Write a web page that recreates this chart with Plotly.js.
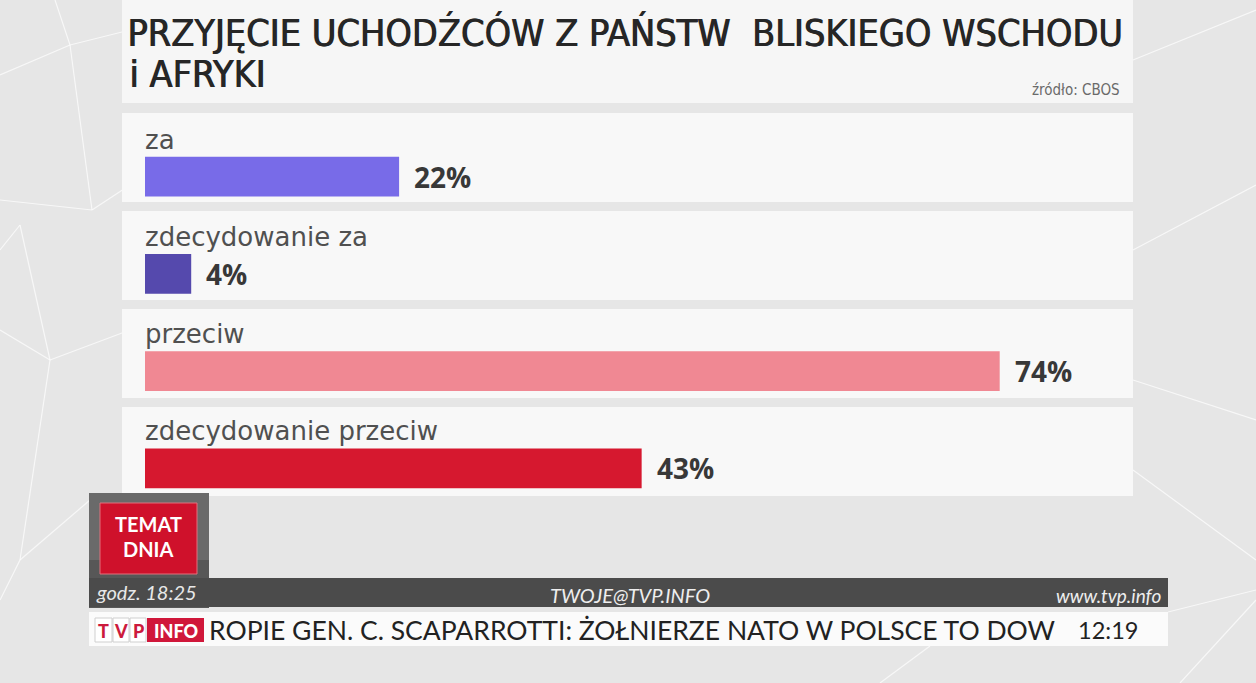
<!DOCTYPE html>
<html>
<head>
<meta charset="utf-8">
<script src="https://cdn.plot.ly/plotly-3.0.1.min.js"></script>
<style>
html,body{margin:0;padding:0;background:#e6e6e6;}
#chart{width:1256px;height:683px;}
</style>
</head>
<body>
<div id="chart"></div>
<script>
// ---- data ----
const categories = ['za', 'zdecydowanie za', 'przeciw', 'zdecydowanie przeciw'];
const values = [22, 4, 74, 43];
const barColors = ['#786be8', '#5549ad', '#f08893', '#d6182f'];
const titleLine1 = 'PRZYJĘCIE UCHODŹCÓW Z PAŃSTW\u00a0\u00a0BLISKIEGO WSCHODU';
const titleLine2 = 'i AFRYKI';
const sourceText = 'źródło: CBOS';
const tickerText = 'ROPIE GEN. C. SCAPARROTTI: ŻOŁNIERZE NATO W POLSCE TO DOW';

// ---- layout geometry (pixels) ----
const W = 1256, H = 683;
const mL = 145, mR = 123, mT = 128, mB = 166;
const plotW = W - mL - mR, plotH = H - mT - mB;
const pxPerUnit = 11.55;
const px = x => (x - mL) / plotW;
const py = y => (H - mB - y) / plotH;

const shapes = [];
const rect = (x0, y0, x1, y1, fill, layer, line) => shapes.push({
  type: 'rect', xref: 'paper', yref: 'paper', layer: layer || 'below',
  x0: px(x0), x1: px(x1), y0: py(y1), y1: py(y0),
  fillcolor: fill, line: line || {width: 0}
});
const seg = (x0, y0, x1, y1, color, w, layer) => shapes.push({
  type: 'line', xref: 'paper', yref: 'paper', layer: layer || 'below',
  x0: px(x0), x1: px(x1), y0: py(y0), y1: py(y1),
  line: {color: color, width: w || 1.2}
});

// background network lines
const netCol = 'rgba(255,255,255,0.7)';
seg(0, 75, 70, 45, netCol); seg(70, 45, 130, 30, netCol); seg(55, 0, 70, 45, netCol);
seg(70, 45, 92, 210, netCol); seg(0, 200, 92, 210, netCol); seg(92, 210, 130, 185, netCol);
seg(20, 225, 0, 250, netCol); seg(20, 225, 50, 360, netCol); seg(50, 360, 130, 330, netCol);
seg(0, 330, 50, 360, netCol); seg(50, 360, 20, 560, netCol); seg(20, 560, 0, 600, netCol);
seg(20, 560, 90, 500, netCol);
seg(1133, 60, 1256, 10, netCol); seg(1133, 250, 1256, 185, netCol); seg(1133, 380, 1256, 420, netCol);
seg(1133, 470, 1256, 560, netCol); seg(1180, 683, 1256, 600, netCol); seg(880, 683, 930, 646, netCol);
seg(1168, 612, 1256, 590, netCol);

// title panel and row panels
rect(122, 0, 1133, 103, '#f6f6f6');
const rowTops = [113, 211, 309, 407];
rowTops.forEach(t => rect(122, t, 1133, t + 89, '#f8f8f8'));

// footer
rect(89, 493, 209, 608, '#6a6a6a', 'above');
rect(89, 560, 209, 608, '#575757', 'above');
rect(100, 503, 197, 574, '#cf112b', 'above', {color: '#e2707d', width: 1});
rect(89, 578, 1168, 607, '#4b4b4b', 'above');
rect(89, 612, 1168, 646, '#fbfbfb', 'above');
// TVP INFO logo
rect(95, 618, 112, 642, '#ffffff', 'above', {color: '#cfcfcf', width: 1});
rect(113, 618, 129, 642, '#ffffff', 'above', {color: '#cfcfcf', width: 1});
rect(130, 618, 146, 642, '#ffffff', 'above', {color: '#cfcfcf', width: 1});
rect(147, 618, 204, 642, '#d0173a', 'above');

const annotations = [];
const txt = (x, y, text, size, color, opts) => annotations.push(Object.assign({
  xref: 'paper', yref: 'paper', x: px(x), y: py(y), text: text, showarrow: false,
  xanchor: 'left', yanchor: 'middle',
  font: {family: 'Lato, "Open Sans", sans-serif', size: size, color: color}
}, opts || {}));

// category labels (above each bar) and value labels (after each bar)
categories.forEach((c, i) => {
  annotations.push({
    xref: 'x', yref: 'y', x: 0, y: c, text: c, showarrow: false,
    xanchor: 'left', yanchor: 'middle', yshift: 37, xshift: -2,
    font: {family: '"DejaVu Sans", sans-serif', size: 26, color: '#505050'}
  });
  annotations.push({
    xref: 'x', yref: 'y', x: values[i], y: c, text: values[i] + '%', showarrow: false,
    xanchor: 'left', yanchor: 'middle', xshift: 13,
    font: {family: '"Open Sans", sans-serif', size: 28, color: '#383838', weight: 700}
  });
});

const titleFont = {family: '"DejaVu Sans Condensed", "DejaVu Sans", sans-serif', size: 37.5, color: '#262626', stretch: 'condensed', shadow: '0.9px 0 0 #262626'};
// title line 2 and source
txt(127, 74, titleLine2, 37.5, '#262626', {font: titleFont});
txt(1122, 90, sourceText, 15, '#6a6a6a', {xanchor: 'right', font: {family: '"DejaVu Sans Condensed", "DejaVu Sans", sans-serif', size: 15, color: '#6a6a6a', stretch: 'condensed'}});

// footer texts
const boxFont = {family: 'Lato, sans-serif', size: 20, color: '#ffffff', weight: 700};
txt(148, 524, 'TEMAT', 20, '#ffffff', {xanchor: 'center', font: boxFont});
txt(148, 549, 'DNIA', 20, '#ffffff', {xanchor: 'center', font: boxFont});
txt(94, 592, '<i>godz. 18:25</i>', 20, '#e8e8e8');
txt(630, 595, '<i>TWOJE@TVP.INFO</i>', 20, '#eeeeee', {xanchor: 'center'});
txt(1163, 595, '<i>www.tvp.info</i>', 19, '#eeeeee', {xanchor: 'right'});
const logoFont = {family: 'Lato, sans-serif', size: 18, color: '#cc1a3c', weight: 900};
txt(103.5, 630.5, 'T', 18, '#cc1a3c', {xanchor: 'center', font: logoFont});
txt(121, 630.5, 'V', 18, '#cc1a3c', {xanchor: 'center', font: logoFont});
txt(138, 630.5, 'P', 18, '#cc1a3c', {xanchor: 'center', font: logoFont});
txt(175.5, 630.5, 'INFO', 18, '#ffffff', {xanchor: 'center', font: Object.assign({}, logoFont, {color: '#ffffff'})});
txt(207, 630, tickerText, 26.5, '#222222');
txt(1140, 630, '12:19', 23.5, '#222222', {xanchor: 'right'});

const trace = {
  type: 'bar', orientation: 'h',
  y: categories, x: values,
  width: 0.41,
  marker: {color: barColors, line: {width: 0}},
  hoverinfo: 'none',
  textposition: 'none'
};

const layout = {
  width: W, height: H,
  margin: {l: mL, r: mR, t: mT, b: mB, pad: 0},
  paper_bgcolor: '#e6e6e6', plot_bgcolor: 'rgba(0,0,0,0)',
  showlegend: false,
  title: {
    text: titleLine1, xref: 'container', yref: 'container',
    x: 127 / W, xanchor: 'left', y: 1 - 33 / H, yanchor: 'middle',
    font: titleFont
  },
  xaxis: {range: [0, plotW / pxPerUnit], showgrid: false, zeroline: false, showticklabels: false, showline: false, fixedrange: true},
  yaxis: {type: 'category', range: [3.5, -0.5], showgrid: false, zeroline: false, showticklabels: false, showline: false, fixedrange: true},
  shapes: shapes,
  annotations: annotations
};

Plotly.newPlot('chart', [trace], layout, {displayModeBar: false, staticPlot: true});
</script>
</body>
</html>
